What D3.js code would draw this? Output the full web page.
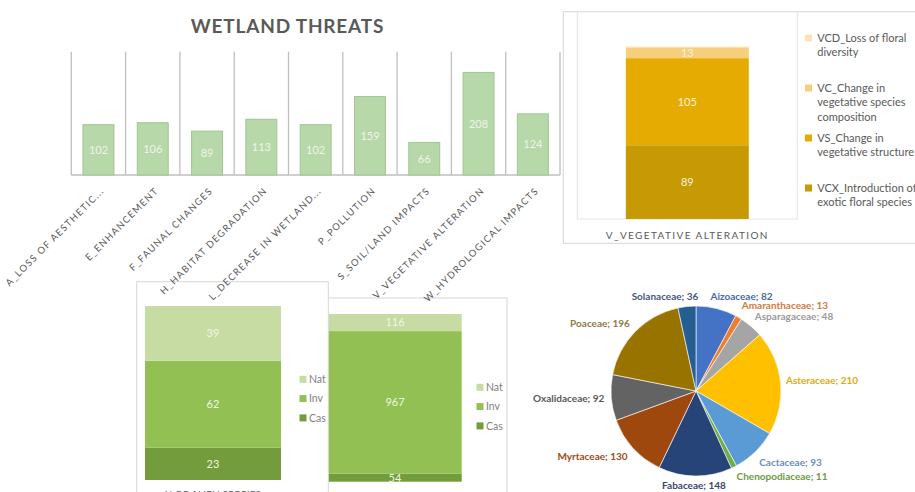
<!DOCTYPE html>
<html>
<head>
<meta charset="utf-8">
<script src="https://cdn.jsdelivr.net/npm/d3@7"></script>
<style>
  html, body { margin: 0; padding: 0; background: #fff; overflow: hidden; }
  svg { display: block; font-family: Lato, "Open Sans", sans-serif; }
</style>
</head>
<body>
<svg id="chart" width="915" height="492"></svg>
<script>
// ---- data ----
const threatCategories = [
  "A_LOSS OF AESTHETIC...", "E_ENHANCEMENT", "F_FAUNAL CHANGES",
  "H_HABITAT DEGRADATION", "L_DECREASE IN WETLAND...", "P_POLLUTION",
  "S_SOIL/LAND IMPACTS", "V_VEGETATIVE ALTERATION", "W_HYDROLOGICAL IMPACTS"
];
const threatCounts = [102, 106, 89, 113, 102, 159, 66, 208, 124];

const vegCategory = "V_VEGETATIVE ALTERATION";
const vegKeys = ["VCX", "VS", "VC", "VCD"];            // stacked bottom to top
const vegCounts = [89, 105, 13, 1];
const vegLegendLines = [                               // legend order, top to bottom
  ["VCD_Loss of floral", "diversity"],
  ["VC_Change in", "vegetative species", "composition"],
  ["VS_Change in", "vegetative structure"],
  ["VCX_Introduction of", "exotic floral species"]
];

const statusKeys = ["Cas", "Inv", "Nat"];              // stacked bottom to top
const alienSpeciesCounts = [23, 62, 39];
const alienRecordCounts = [54, 967, 116];
const alienCategories = ["N OF ALIEN SPECIES", "N OF RECORDS"];

const families = ["Aizoaceae", "Amaranthaceae", "Asparagaceae", "Asteraceae", "Cactaceae",
  "Chenopodiaceae", "Fabaceae", "Myrtaceae", "Oxalidaceae", "Poaceae", "Solanaceae"];
const familyCounts = [82, 13, 48, 210, 93, 11, 148, 130, 92, 196, 36];

// ---- styles ----
const textGray = "#595959";
const gridGray = "#bfbfbf";
const vegColors = { VCX: "#c79a05", VS: "#e6ab03", VC: "#f5cf7c", VCD: "#fbe3b4" };
const statusColors = { Cas: "#739c3c", Inv: "#93c052", Nat: "#c6dca3" };
const pieColors = ["#4472c4", "#ed7d31", "#a5a5a5", "#ffc000", "#5b9bd5", "#70ad47",
  "#264478", "#9e480e", "#636363", "#997300", "#255e91"];
const pieLabelColors = ["#4a69a8", "#d27a3e", "#9a9a9a", "#e3a90f", "#6a8ec0", "#6a9c40",
  "#3a4868", "#9a4b20", "#595959", "#8c7c44", "#46587a"];

const svg = d3.select("#chart");

// ================= WETLAND THREATS =================
const main = svg.append("g");
const x = d3.scaleBand().domain(threatCategories).range([71.3, 560]).padding(0);
const y = d3.scaleLinear().domain([0, 250]).range([175, 51.7]);

main.append("text")
  .attr("x", 287.5).attr("y", 33)
  .attr("text-anchor", "middle")
  .attr("font-size", 19).attr("font-weight", 700)
  .attr("letter-spacing", 0.8)
  .attr("fill", textGray)
  .text("WETLAND THREATS");

// vertical separators between categories
const bounds = d3.range(threatCategories.length + 1).map(i => x.range()[0] + i * x.step());
main.selectAll("line.sep").data(bounds).join("line")
  .attr("class", "sep")
  .attr("x1", d => d).attr("x2", d => d)
  .attr("y1", y(250)).attr("y2", y(0))
  .attr("stroke", gridGray).attr("stroke-width", 1.3);
main.append("line")
  .attr("x1", x.range()[0]).attr("x2", x.range()[1])
  .attr("y1", y(0)).attr("y2", y(0))
  .attr("stroke", gridGray).attr("stroke-width", 1.3);

const barW = x.step() * 0.57;
const threatRows = threatCategories.map((c, i) => ({ c, v: threatCounts[i] }));
main.selectAll("rect.bar").data(threatRows).join("rect")
  .attr("class", "bar")
  .attr("x", d => x(d.c) + (x.bandwidth() - barW) / 2)
  .attr("y", d => y(d.v))
  .attr("width", barW)
  .attr("height", d => y(0) - y(d.v))
  .attr("fill", "#b7d8a8")
  .attr("stroke", "#a3c493").attr("stroke-width", 1);
main.selectAll("text.val").data(threatRows).join("text")
  .attr("class", "val")
  .attr("x", d => x(d.c) + x.bandwidth() / 2)
  .attr("y", d => (y(d.v) + y(0)) / 2)
  .attr("dy", "0.35em")
  .attr("text-anchor", "middle")
  .attr("font-size", 11)
  .attr("fill", "#eef5e8")
  .text(d => d.v);

// ================= V_VEGETATIVE ALTERATION panel =================
const vp = svg.append("g");
vp.append("rect").attr("x", 563.3).attr("y", 11.7).attr("width", 400).attr("height", 231.6)
  .attr("fill", "#fff").attr("stroke", "#d6d6d6").attr("stroke-width", 1);
vp.append("rect").attr("x", 577.3).attr("y", 11.7).attr("width", 220).attr("height", 207.3)
  .attr("fill", "none").attr("stroke", "#e4e4e4").attr("stroke-width", 1);

const vx = d3.scaleBand().domain([vegCategory]).range([577.3, 797.3]).padding(0.283);
const vy = d3.scaleLinear().domain([0, 250]).range([219, 11.7]);
const vegRow = {}; vegKeys.forEach((k, i) => vegRow[k] = vegCounts[i]);
const vegStack = d3.stack().keys(vegKeys)([vegRow]);

vp.selectAll("rect.seg").data(vegStack).join("rect")
  .attr("class", "seg")
  .attr("x", vx(vegCategory))
  .attr("width", vx.bandwidth())
  .attr("y", d => vy(d[0][1]))
  .attr("height", d => vy(d[0][0]) - vy(d[0][1]))
  .attr("fill", d => vegColors[d.key]);
vp.selectAll("text.seglab").data(vegStack.filter(d => d[0][1] - d[0][0] >= 5)).join("text")
  .attr("class", "seglab")
  .attr("x", vx(vegCategory) + vx.bandwidth() / 2)
  .attr("y", d => (vy(d[0][0]) + vy(d[0][1])) / 2)
  .attr("dy", "0.35em")
  .attr("text-anchor", "middle")
  .attr("font-size", 11)
  .attr("fill", "#fbf3dc")
  .text(d => d[0][1] - d[0][0]);

const vAxis = vp.append("g").attr("transform", `translate(0,${vy(0)})`)
  .call(d3.axisBottom(vx).tickSize(0).tickPadding(13));
vAxis.select(".domain").remove();
vAxis.selectAll("text")
  .attr("font-family", "Lato, sans-serif")
  .attr("font-size", 10).attr("letter-spacing", 1.4)
  .attr("fill", textGray);

const legendKeys = ["VCD", "VC", "VS", "VCX"];
const vLeg = vp.selectAll("g.leg").data(legendKeys).join("g")
  .attr("class", "leg")
  .attr("transform", (d, i) => `translate(805,${38 + i * 50})`);
vLeg.append("rect").attr("x", 0).attr("y", -3.5).attr("width", 7).attr("height", 7)
  .attr("fill", d => vegColors[d]);
vLeg.each(function (d, i) {
  d3.select(this).selectAll("text").data(vegLegendLines[i]).join("text")
    .attr("x", 12.3).attr("y", (t, j) => j * 14.6)
    .attr("dy", "0.35em")
    .attr("font-size", 11).attr("fill", textGray)
    .text(t => t);
});

// ================= Alien species status panels =================
const ap = svg.append("g");

function statusChart(g, counts, category, xr, yr, legX, legY) {
  const bx = d3.scaleBand().domain([category]).range(xr).padding(0);
  const total = d3.sum(counts);
  const by = d3.scaleLinear().domain([0, total]).range(yr);
  const row = {}; statusKeys.forEach((k, i) => row[k] = counts[i]);
  const st = d3.stack().keys(statusKeys)([row]);
  g.selectAll("rect.s").data(st).join("rect")
    .attr("class", "s")
    .attr("x", bx(category)).attr("width", bx.bandwidth())
    .attr("y", d => by(d[0][1]))
    .attr("height", d => by(d[0][0]) - by(d[0][1]))
    .attr("fill", d => statusColors[d.key]);
  g.selectAll("text.sl").data(st).join("text")
    .attr("class", "sl")
    .attr("x", bx(category) + bx.bandwidth() / 2)
    .attr("y", d => (by(d[0][0]) + by(d[0][1])) / 2)
    .attr("dy", "0.35em")
    .attr("text-anchor", "middle")
    .attr("font-size", 11).attr("fill", "#f1f6e6")
    .text(d => d[0][1] - d[0][0]);
  const ax = g.append("g").attr("transform", `translate(0,${yr[0]})`)
    .call(d3.axisBottom(bx).tickSize(0).tickPadding(11));
  ax.select(".domain").remove();
  ax.selectAll("text")
    .attr("font-family", "Lato, sans-serif")
    .attr("font-size", 9.5).attr("letter-spacing", 0.4)
    .attr("fill", textGray);
  const lg = g.selectAll("g.lg").data(statusKeys.slice().reverse()).join("g")
    .attr("class", "lg")
    .attr("transform", (d, i) => `translate(${legX},${legY + i * 19.3})`);
  lg.append("rect").attr("x", 0).attr("y", -3.5).attr("width", 7).attr("height", 7)
    .attr("fill", d => statusColors[d]);
  lg.append("text").attr("x", 9.5).attr("dy", "0.35em")
    .attr("font-size", 10.5).attr("fill", "#7f7f7f")
    .text(d => d);
}

const panelB = ap.append("g");
panelB.append("rect").attr("x", 318).attr("y", 298).attr("width", 189).attr("height", 210)
  .attr("fill", "#fff").attr("stroke", "#d6d6d6");
statusChart(panelB, alienRecordCounts, alienCategories[1], [328.3, 461.7], [481.7, 314], 476.5, 387.3);

const panelA = ap.append("g");
panelA.append("rect").attr("x", 136.7).attr("y", 281.7).attr("width", 191.6).attr("height", 226)
  .attr("fill", "#fff").attr("stroke", "#d6d6d6");
statusChart(panelA, alienSpeciesCounts, alienCategories[0], [145, 281], [480, 306], 299.5, 379.3);

// category labels of the threats chart, drawn last
const xAxis = main.append("g").attr("transform", `translate(0,${y(0)})`)
  .call(d3.axisBottom(x).tickSize(0));
xAxis.select(".domain").remove();
xAxis.selectAll("text")
  .attr("x", 0).attr("y", 0).attr("dy", "0.35em")
  .attr("text-anchor", "end")
  .attr("transform", "translate(4,14) rotate(-45)")
  .attr("font-family", "Lato, sans-serif")
  .attr("font-size", 9.5).attr("letter-spacing", 1.25)
  .attr("fill", textGray);
main.raise();

// ================= Plant families pie =================
const pg = svg.append("g").attr("transform", "translate(696,391)");
const pie = d3.pie().sort(null).value(d => d.v);
const arc = d3.arc().innerRadius(0).outerRadius(85);
const famRows = families.map((f, i) => ({ f, v: familyCounts[i], i }));
const arcs = pie(famRows);
pg.selectAll("path").data(arcs).join("path")
  .attr("d", arc)
  .attr("fill", d => pieColors[d.data.i])
  .attr("stroke", "#fff").attr("stroke-width", 0.6);

// label anchors around the pie (offsets from its centre)
const pieLabelOffsets = [
  [45.5, -95], [89, -85.3], [98, -74.6], [126, -10.3], [94.5, 71], [86, 85.7],
  [-2, 94.7], [-103.5, 65.7], [-127.3, 7.3], [-96, -67.7], [-31, -95]
];
pg.selectAll("text").data(arcs).join("text")
  .attr("x", d => pieLabelOffsets[d.data.i][0])
  .attr("y", d => pieLabelOffsets[d.data.i][1])
  .attr("dy", "0.35em")
  .attr("text-anchor", "middle")
  .attr("font-size", 10).attr("font-weight", 700)
  .attr("fill", d => pieLabelColors[d.data.i])
  .text(d => `${d.data.f}; ${d.data.v}`);
</script>
</body>
</html>
